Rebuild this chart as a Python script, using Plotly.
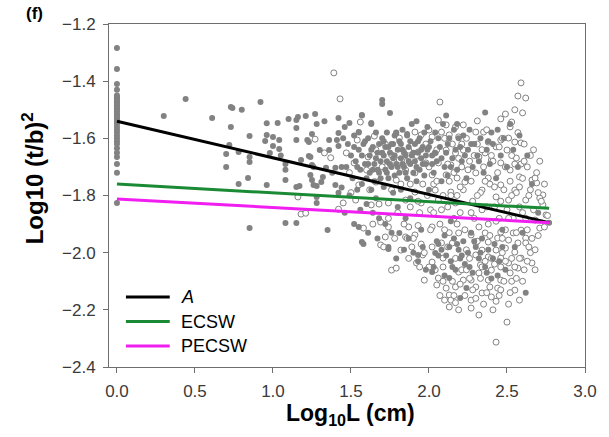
import plotly.graph_objects as go

# ---------------- data ----------------
# filled points stacked at Log10L = 0
col0_y = [-1.284, -1.357, -1.41, -1.43, -1.45, -1.455, -1.46, -1.465, -1.47, -1.475,
          -1.48, -1.485, -1.49, -1.495, -1.50, -1.505, -1.51, -1.515, -1.52, -1.525,
          -1.53, -1.535, -1.54, -1.55, -1.56, -1.57, -1.58, -1.59, -1.60, -1.61,
          -1.62, -1.635, -1.65, -1.665, -1.69, -1.72, -1.826]

filled_low = [(0.30, -1.522), (0.44, -1.462), (0.61, -1.529), (0.72, -1.623), (0.73, -1.56),
              (0.73, -1.49), (0.74, -1.494), (0.80, -1.50), (0.70, -1.655), (0.70, -1.70),
              (0.78, -1.648), (0.78, -1.76), (0.84, -1.739), (0.85, -1.592), (0.85, -1.665),
              (0.85, -1.683), (0.85, -1.914), (0.92, -1.473), (0.96, -1.547), (0.96, -1.588),
              (0.95, -1.609), (0.96, -1.763), (0.98, -1.651), (1.00, -1.595), (1.00, -1.627),
              (1.03, -1.546), (1.04, -1.606), (1.04, -1.637), (1.05, -1.66), (1.08, -1.69),
              (1.08, -1.71), (1.08, -1.746), (1.08, -1.896), (1.10, -1.532), (1.15, -1.536),
              (1.15, -1.564), (1.15, -1.606), (1.15, -1.77), (1.15, -1.896), (1.16, -1.525),
              (1.17, -1.767), (1.18, -1.676), (1.21, -1.522), (1.22, -1.606), (1.23, -1.613),
              (1.23, -1.662), (1.24, -1.665), (1.24, -1.728), (1.25, -1.585), (1.25, -1.693),
              (1.25, -1.746), (1.26, -1.70), (1.26, -1.763), (1.27, -1.515), (1.28, -1.55),
              (1.28, -1.767), (1.28, -1.805), (1.28, -1.826), (1.30, -1.641), (1.31, -1.753),
              (1.32, -1.735), (1.33, -1.54), (1.34, -1.703), (1.35, -1.921), (1.36, -1.606),
              (1.36, -1.641), (1.38, -1.72), (1.40, -1.703), (1.40, -1.763), (1.41, -1.606),
              (1.42, -1.529), (1.42, -1.581), (1.42, -1.627), (1.42, -1.79), (1.44, -1.70),
              (1.44, -1.772), (1.45, -1.60)]

filled_mid = [(1.46, -1.56), (1.48, -1.62), (1.47, -1.70), (1.50, -1.66), (1.51, -1.74),
              (1.52, -1.59), (1.53, -1.68), (1.54, -1.78), (1.55, -1.58), (1.55, -1.64),
              (1.56, -1.71), (1.57, -1.52), (1.57, -1.76), (1.58, -1.62), (1.58, -1.97),
              (1.59, -1.69), (1.52, -1.90), (1.55, -1.91), (1.60, -1.74), (1.60, -1.83),
              (1.49, -1.80), (1.46, -1.86), (1.56, -1.85), (1.61, -1.60), (1.62, -1.66),
              (1.62, -1.72), (1.63, -1.55), (1.63, -1.78), (1.64, -1.63), (1.65, -1.69),
              (1.65, -1.75), (1.66, -1.58), (1.66, -1.81), (1.67, -1.65), (1.67, -1.71),
              (1.68, -1.62), (1.68, -1.88), (1.69, -1.68), (1.69, -1.74), (1.70, -1.466),
              (1.70, -1.48), (1.70, -1.60), (1.64, -1.86), (1.61, -1.93), (1.67, -1.95),
              (1.71, -1.66), (1.71, -1.77), (1.72, -1.63), (1.72, -1.71), (1.73, -1.58),
              (1.73, -1.68), (1.74, -1.74), (1.74, -1.98), (1.75, -1.511), (1.75, -1.65),
              (1.76, -1.70), (1.76, -1.62), (1.77, -1.79), (1.77, -1.67), (1.78, -1.73),
              (1.78, -1.59), (1.79, -1.58), (1.79, -1.69), (1.80, -1.64), (1.80, -1.84),
              (1.72, -1.90), (1.76, -1.93), (1.79, -2.02), (1.81, -1.61), (1.81, -1.72),
              (1.82, -1.67), (1.82, -1.78), (1.83, -1.57), (1.83, -1.64), (1.84, -1.70),
              (1.85, -1.66), (1.85, -1.88), (1.86, -1.59), (1.86, -1.74), (1.87, -1.63),
              (1.87, -1.95), (1.88, -1.69), (1.88, -1.81), (1.89, -1.55), (1.89, -1.66),
              (1.90, -1.72), (1.84, -1.99), (1.90, -2.00), (1.57, -1.518), (1.63, -1.546),
              (1.49, -1.546), (1.55, -1.578), (1.79, -1.581), (1.86, -1.585)]

filled_core = [(1.52, -1.63), (1.54, -1.70), (1.57, -1.66), (1.59, -1.61), (1.61, -1.69),
               (1.63, -1.64), (1.64, -1.71), (1.66, -1.67), (1.68, -1.72), (1.70, -1.65),
               (1.71, -1.61), (1.73, -1.72), (1.74, -1.63), (1.75, -1.69), (1.77, -1.62),
               (1.78, -1.66), (1.80, -1.70), (1.82, -1.62), (1.83, -1.69), (1.84, -1.65),
               (1.85, -1.72), (1.87, -1.68), (1.88, -1.61), (1.90, -1.65), (1.92, -1.70),
               (1.93, -1.61), (1.95, -1.64), (1.96, -1.69), (1.98, -1.66), (2.00, -1.63),
               (2.02, -1.69), (2.04, -1.65), (2.06, -1.60), (2.08, -1.67), (2.12, -1.62),
               (2.14, -1.70), (2.17, -1.64), (2.19, -1.60), (2.23, -1.66), (2.27, -1.62),
               (2.32, -1.68), (2.38, -1.61), (2.06, -1.97), (2.11, -2.01), (2.15, -2.05),
               (2.18, -1.97), (2.21, -2.01), (2.26, -2.05), (2.29, -1.96), (2.33, -2.00),
               (2.37, -2.07), (2.41, -2.02), (2.44, -2.08), (2.47, -1.98)]

filled_high = [(1.91, -1.62), (1.91, -1.68), (1.92, -1.54), (1.92, -1.75), (1.93, -1.65),
               (1.94, -1.60), (1.94, -1.71), (1.95, -1.67), (1.95, -1.92), (1.96, -1.63),
               (1.96, -1.98), (1.97, -1.58), (1.97, -1.73), (1.98, -1.69), (1.99, -1.56),
               (1.99, -1.64), (2.00, -1.78), (1.93, -2.03), (1.98, -2.06), (2.01, -1.61),
               (2.02, -1.66), (2.03, -1.72), (2.04, -1.58), (2.05, -1.96), (2.05, -1.68),
               (2.06, -2.01), (2.07, -1.63), (2.08, -1.75), (2.08, -1.99), (2.09, -1.55),
               (2.10, -1.70), (2.03, -2.05), (2.10, -1.94), (2.11, -1.52), (2.11, -1.65),
               (2.12, -1.73), (2.13, -1.60), (2.13, -1.98), (2.14, -2.03), (2.15, -1.67),
               (2.16, -1.95), (2.16, -1.57), (2.17, -2.06), (2.18, -1.55), (2.18, -1.71),
               (2.19, -1.99), (2.20, -1.63), (2.20, -2.02), (2.14, -1.89), (2.21, -1.68),
               (2.22, -1.96), (2.22, -1.59), (2.23, -2.04), (2.24, -1.74), (2.25, -1.64),
               (2.25, -2.00), (2.26, -1.57), (2.27, -1.93), (2.28, -1.70), (2.28, -2.07),
               (2.29, -1.62), (2.30, -1.98), (2.31, -1.66), (2.32, -2.02), (2.33, -1.60),
               (2.34, -1.95), (2.35, -1.72), (2.36, -1.51), (2.36, -2.05), (2.37, -1.64),
               (2.38, -1.99), (2.39, -1.69), (2.40, -1.58), (2.40, -2.09), (2.41, -1.62),
               (2.42, -1.97), (2.43, -1.74), (2.44, -1.57), (2.45, -2.03), (2.46, -1.66),
               (2.47, -1.92), (2.48, -1.60), (2.49, -2.06), (2.50, -1.70), (2.52, -1.55),
               (2.54, -1.64), (2.55, -1.98), (2.57, -1.70), (2.58, -1.59), (2.60, -1.93),
               (2.62, -2.14), (2.63, -1.66), (2.66, -1.76), (2.70, -1.86), (2.77, -1.895),
               (1.57, -1.963), (1.74, -1.987), (1.93, -2.008), (2.02, -2.068), (2.10, -2.08),
               (2.13, -2.089), (2.20, -2.159), (2.24, -2.124), (2.04, -2.001), (1.81, -1.931)]

open_pts = [(1.39, -1.371), (1.43, -1.462), (1.27, -1.603), (1.33, -1.651), (1.37, -1.668),
            (1.47, -1.651), (1.16, -1.805), (1.18, -1.865), (1.21, -1.862), (1.42, -1.848),
            (1.45, -1.826), (1.49, -1.72), (1.50, -1.79),
            (2.59, -1.406), (2.57, -1.452), (2.62, -1.459), (2.60, -1.511), (2.55, -1.50),
            (2.49, -1.515), (2.46, -1.532), (2.53, -1.543), (2.52, -1.56), (2.31, -1.539),
            (2.35, -1.578), (2.30, -1.578), (2.38, -1.613), (2.46, -1.606), (2.51, -1.599),
            (2.55, -1.613), (2.59, -1.616), (2.43, -1.63), (2.50, -1.641), (2.56, -1.669),
            (2.59, -1.69), (2.36, -1.651), (2.32, -1.665), (2.40, -1.676), (2.46, -1.686),
            (2.52, -1.711), (2.58, -1.735), (2.66, -1.746), (2.69, -1.756), (2.68, -1.739),
            (2.73, -1.798), (2.71, -1.809), (2.62, -1.816), (2.55, -1.781), (2.46, -1.763),
            (2.38, -1.739), (2.30, -1.721), (2.34, -1.781), (2.43, -1.805), (2.51, -1.816),
            (2.71, -1.914), (2.62, -1.949), (2.65, -2.00), (2.66, -2.036), (2.59, -2.019),
            (2.57, -2.054), (2.52, -2.071), (2.53, -2.10), (2.55, -2.131), (2.58, -2.166),
            (2.50, -2.243), (2.43, -2.313), (2.32, -2.218), (2.27, -2.194), (2.40, -2.155),
            (2.34, -2.141), (2.44, -2.124), (2.46, -2.096), (2.38, -2.096), (2.30, -2.12),
            (2.27, -2.096), (2.32, -2.071), (2.40, -2.061), (2.46, -2.05), (2.51, -2.036),
            (2.46, -2.019), (2.38, -2.015), (2.30, -2.008), (2.34, -1.991), (2.43, -1.991),
            (2.49, -1.984), (2.55, -1.998), (2.57, -1.966), (2.51, -1.956), (2.44, -1.949),
            (2.38, -1.963), (2.30, -1.966), (2.27, -1.938), (2.36, -1.931), (2.46, -1.928),
            (2.54, -1.931), (2.62, -1.966), (2.59, -1.921), (2.27, -2.166), (2.33, -2.043),
            (1.58, -1.914), (1.69, -1.893), (1.74, -1.91), (1.72, -1.945), (1.69, -1.973),
            (1.71, -1.98), (1.82, -1.991), (1.76, -2.061), (1.79, -2.054), (1.97, -2.096),
            (1.96, -2.008), (1.92, -2.036), (2.02, -2.033), (2.05, -2.113), (2.06, -2.089),
            (2.11, -2.124), (2.17, -2.12), (2.13, -2.148), (2.14, -2.166), (2.10, -2.166),
            (2.13, -2.19), (2.17, -2.175), (2.22, -2.096), (2.19, -2.068), (2.09, -2.019),
            (1.91, -1.938), (1.85, -1.945), (1.87, -1.91), (1.93, -1.905), (2.02, -1.91),
            (2.13, -1.93), (2.19, -1.931), (2.15, -1.966), (2.08, -1.966), (2.02, -1.98),
            (1.89, -1.98), (2.07, -1.473), (2.06, -1.536), (2.11, -1.553), (2.17, -1.56),
            (2.22, -1.553), (1.56, -1.543), (1.54, -1.606), (1.65, -1.592), (1.81, -1.599),
            (1.91, -1.578), (1.95, -1.588), (2.00, -1.571), (2.02, -1.595), (2.08, -1.578),
            (2.13, -1.588), (2.19, -1.595), (1.87, -1.641), (1.93, -1.648), (2.04, -1.651),
            (2.11, -1.641), (2.17, -1.651), (2.22, -1.641), (1.81, -1.676), (1.98, -1.686),
            (2.06, -1.686), (2.14, -1.693), (2.21, -1.70), (1.72, -1.70), (1.60, -1.711),
            (1.52, -1.686), (1.61, -1.665), (1.76, -1.658), (1.85, -1.711), (1.91, -1.721),
            (2.02, -1.728), (2.11, -1.728), (2.18, -1.739), (2.23, -1.753), (1.79, -1.746),
            (1.66, -1.753), (1.55, -1.763), (1.53, -1.816), (1.63, -1.833), (1.74, -1.826),
            (1.85, -1.816), (1.95, -1.826), (2.06, -1.816), (2.17, -1.826), (2.04, -1.781),
            (2.14, -1.788), (1.91, -1.788), (2.68, -1.886), (2.75, -1.868), (2.73, -1.833),
            (2.24, -1.60), (2.26, -1.68), (2.27, -1.75), (2.28, -1.82), (2.29, -1.88),
            (2.31, -1.62), (2.33, -1.79), (2.34, -1.85), (2.35, -1.70), (2.37, -1.57),
            (2.38, -1.90), (2.39, -1.76), (2.41, -1.68), (2.42, -1.84), (2.44, -1.72),
            (2.45, -1.88), (2.47, -1.60), (2.48, -1.78), (2.49, -1.92), (2.50, -1.85),
            (2.52, -1.75), (2.53, -1.66), (2.54, -1.88), (2.56, -1.79), (2.57, -1.58),
            (2.58, -1.84), (2.60, -1.74), (2.61, -1.62), (2.62, -1.88), (2.63, -1.70),
            (2.64, -1.80), (2.65, -1.66), (2.67, -1.85), (2.69, -1.72), (2.70, -1.94),
            (2.72, -1.82), (2.74, -1.76), (2.76, -1.87), (1.98, -1.62), (2.00, -1.70),
            (2.01, -1.85), (2.03, -1.76), (2.05, -1.64), (2.07, -1.90), (2.09, -1.80),
            (2.10, -1.60), (2.12, -1.84), (2.13, -1.75), (2.15, -1.62), (2.16, -1.88),
            (2.18, -1.80), (2.19, -1.67), (2.20, -1.86), (2.22, -1.78), (2.23, -1.92),
            (1.80, -1.86), (1.82, -1.76), (1.84, -1.90), (1.86, -1.68), (1.88, -1.84),
            (1.90, -1.95), (1.92, -1.66), (1.94, -1.86), (1.96, -1.76), (1.97, -2.00),
            (1.62, -1.78), (1.64, -1.90), (1.66, -1.64), (1.68, -1.83), (1.70, -1.70),
            (1.72, -1.62), (1.74, -1.88), (1.76, -1.78), (1.78, -1.95), (2.26, -2.02),
            (2.28, -2.13), (2.31, -1.96), (2.33, -2.09), (2.35, -2.18), (2.36, -2.03),
            (2.39, -2.12), (2.41, -2.20), (2.42, -2.04), (2.45, -2.15), (2.47, -2.00),
            (2.48, -2.10), (2.51, -2.18), (2.53, -2.02), (2.56, -2.09), (2.58, -2.02),
            (2.60, -2.10), (2.63, -2.03), (2.66, -1.95), (2.68, -2.06), (2.04, -2.06),
            (2.07, -2.15), (2.09, -2.05), (2.12, -1.98), (2.15, -2.10), (2.17, -2.02),
            (2.19, -2.20), (2.21, -2.06), (2.23, -2.15), (2.24, -1.99)]

open_extra = [(2.25, -1.71), (2.27, -1.86), (2.29, -1.66), (2.31, -1.80), (2.32, -1.91),
              (2.34, -1.64), (2.36, -1.75), (2.37, -1.84), (2.39, -1.94), (2.40, -1.66),
              (2.42, -1.77), (2.43, -1.89), (2.45, -1.63), (2.46, -1.82), (2.47, -1.95),
              (2.49, -1.70), (2.51, -1.88), (2.53, -1.80), (2.55, -1.69), (2.56, -1.93),
              (2.58, -1.77), (2.60, -1.86), (2.61, -1.68), (2.63, -1.92), (2.65, -1.78),
              (2.67, -1.64), (2.68, -1.99), (2.70, -1.79), (2.71, -1.68), (2.74, -1.91),
              (2.05, -1.75), (2.08, -1.85), (2.10, -1.92), (2.12, -1.69), (2.14, -1.80),
              (2.16, -1.72), (2.18, -1.90), (2.20, -1.77), (2.21, -1.62), (1.99, -1.80),
              (2.01, -1.92), (2.03, -1.86), (1.93, -1.82), (1.95, -1.97), (1.88, -1.76),
              (1.86, -1.95), (2.26, -2.09), (2.30, -2.16), (2.34, -2.05), (2.37, -2.14),
              (2.40, -2.02), (2.43, -2.17), (2.46, -2.13), (2.49, -2.03), (2.52, -2.14),
              (2.55, -2.05), (2.61, -2.06), (2.64, -1.98), (2.16, -2.15), (2.20, -2.11),
              (2.24, -2.06), (2.09, -2.10), (2.00, -2.05), (1.94, -2.05), (1.87, -2.02)]

# regression lines (end points)
line_x = [0.0, 2.77]
line_A = [-1.54, -1.895]
line_ECSW = [-1.76, -1.845]
line_PECSW = [-1.812, -1.895]
legend_names = ["<i>A</i>", "ECSW", "PECSW"]
line_colors = ["black", "#1a8a34", "#f01ef0"]

x_ticks = [0.0, 0.5, 1.0, 1.5, 2.0, 2.5, 3.0]
y_ticks = [-2.4, -2.2, -2.0, -1.8, -1.6, -1.4, -1.2]

# ---------------- figure ----------------
filled = filled_low + filled_mid + filled_core + filled_high
opens = open_pts + open_extra
fx = [0.0] * len(col0_y) + [p[0] for p in filled]
fy = col0_y + [p[1] for p in filled]
ox = [p[0] for p in opens]
oy = [p[1] for p in opens]

GRAY = "#828282"
fig = go.Figure()
fig.add_trace(go.Scatter(x=ox, y=oy, mode="markers", showlegend=False,
                         marker=dict(size=6, color="white", line=dict(color=GRAY, width=1))))
fig.add_trace(go.Scatter(x=fx, y=fy, mode="markers", showlegend=False,
                         marker=dict(size=6, color=GRAY, line=dict(width=0))))
for name, ys, col in zip(legend_names, [line_A, line_ECSW, line_PECSW], line_colors):
    fig.add_trace(go.Scatter(x=line_x, y=ys, mode="lines", name=name, showlegend=False,
                             line=dict(color=col, width=3)))

FONT = "Liberation Sans, Arial, sans-serif"

# plot area in pixels: x 109..587, y 24..367
def px_x(p):
    return (p - 109) / 478.0

def px_y(p):
    return (367 - p) / 343.0

shapes = []
annotations = []
for i, (name, col) in enumerate(zip(legend_names, line_colors)):
    yy = px_y(297 + 24.5 * i)
    shapes.append(dict(type="line", xref="paper", yref="paper", x0=px_x(126), x1=px_x(170),
                       y0=yy, y1=yy, line=dict(color=col, width=3)))
    annotations.append(dict(text=name, xref="paper", yref="paper", x=px_x(179), y=yy,
                            xanchor="left", yanchor="middle", showarrow=False,
                            font=dict(family=FONT, size=18, color="black")))

annotations += [
    dict(text="<b>(f)</b>", xref="paper", yref="paper", x=px_x(34), y=px_y(14),
         xanchor="center", yanchor="middle", showarrow=False,
         font=dict(family=FONT, size=17, color="black")),
    dict(text="<b>Log<sub>10</sub>L (cm)</b>", xref="paper", yref="paper", x=px_x(352), y=px_y(414),
         xanchor="center", yanchor="middle", showarrow=False,
         font=dict(family=FONT, size=23, color="black")),
    dict(text="<b>Log10 (t/b)<sup>2</sup></b>", xref="paper", yref="paper", x=px_x(33), y=px_y(178),
         xanchor="center", yanchor="middle", showarrow=False, textangle=-90,
         font=dict(family=FONT, size=24, color="black")),
]

axis_common = dict(showline=True, linecolor="#6e6e6e", linewidth=1, mirror=True,
                   ticks="outside", ticklen=5, tickcolor="#6e6e6e", showgrid=False,
                   zeroline=False, tickfont=dict(family=FONT, size=17, color="#3a3a3a"))
fig.update_layout(
    width=609, height=437,
    margin=dict(l=109, r=22, t=24, b=70),
    paper_bgcolor="white", plot_bgcolor="white",
    showlegend=False,
    xaxis=dict(range=[-0.051, 3.0], tickvals=x_ticks, ticktext=[f"{v:.1f}" for v in x_ticks],
               ticklabelstandoff=4, **axis_common),
    yaxis=dict(range=[-2.4, -1.2], tickvals=y_ticks,
               ticktext=[f"\u2212{abs(v):.1f}" for v in y_ticks],
               ticklabelstandoff=4, **axis_common),
    shapes=shapes,
    annotations=annotations,
)
fig.write_html("out.html")
